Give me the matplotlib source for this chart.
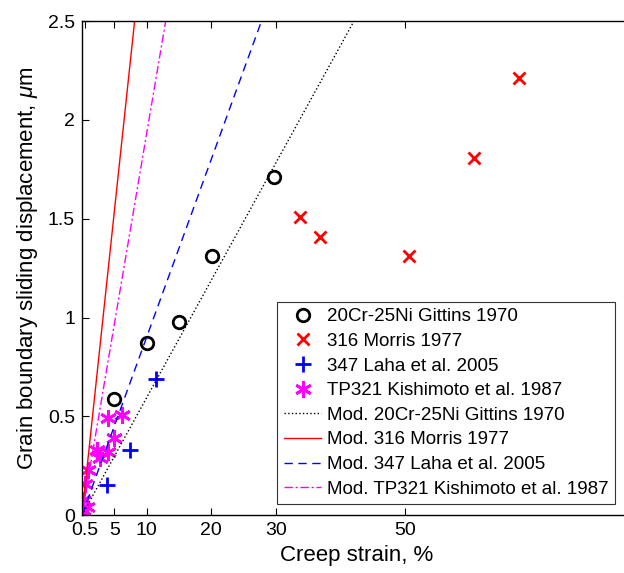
import matplotlib
matplotlib.use('Agg')
import matplotlib.pyplot as plt
import numpy as np

plt.rcParams['font.family'] = ['Liberation Sans', 'DejaVu Sans']
plt.rcParams['mathtext.fontset'] = 'custom'
plt.rcParams['mathtext.it'] = 'Liberation Sans:italic'

# measured data
gittins_x = [4.9, 10.0, 15.0, 20.2, 29.7]
gittins_y = [0.59, 0.87, 0.98, 1.31, 1.71]

morris_x = [33.7, 36.8, 50.6, 60.7, 67.7]
morris_y = [1.51, 1.41, 1.31, 1.81, 2.21]

laha_x = [3.8, 7.5, 11.5]
laha_y = [0.15, 0.33, 0.69]

kishi_x = [4.06, 6.12, 4.93, 2.25, 2.76, 4.06, 0.96, 0.44, 0.19, 0.19, 0.70]
kishi_y = [0.49, 0.505, 0.39, 0.33, 0.29, 0.32, 0.23, 0.16, 0.076, 0.025, 0.042]

# model slopes (displacement per % strain)
slope_gittins = 0.0594
slope_morris = 0.307
slope_laha = 0.090
slope_kishi = 0.193

xticks = [0.5, 5, 10, 20, 30, 50]
xticklabels = ['0.5', '5', '10', '20', '30', '50']
yticks = [0, 0.5, 1, 1.5, 2, 2.5]
yticklabels = ['0', '0.5', '1', '1.5', '2', '2.5']

fig = plt.figure(figsize=(6.24, 5.73), dpi=100)
ax = fig.add_axes([0.1314, 0.101, 0.88, 0.862])

asterisk = (6, 2, 0)
ax.plot(gittins_x, gittins_y, 'o', ms=9, mfc='none', mec='black', mew=2,
        ls='none', label='20Cr-25Ni Gittins 1970')
ax.plot(morris_x, morris_y, 'x', ms=9, mec='red', mew=2,
        ls='none', label='316 Morris 1977')
ax.plot(laha_x, laha_y, '+', ms=12, mec='blue', mew=2,
        ls='none', label='347 Laha et al. 2005')
ax.plot(kishi_x, kishi_y, marker=asterisk, ms=12, mec='magenta', mfc='magenta',
        mew=2, ls='none', label='TP321 Kishimoto et al. 1987')

xm = np.array([0, 85])
ax.plot(xm, slope_gittins * xm, ls=':', color='black', lw=1,
        label='Mod. 20Cr-25Ni Gittins 1970')
ax.plot(xm, slope_morris * xm, ls='-', color='red', lw=1,
        label='Mod. 316 Morris 1977')
ax.plot(xm, slope_laha * xm, ls=(0, (6, 4)), color='blue', lw=1,
        label='Mod. 347 Laha et al. 2005')
ax.plot(xm, slope_kishi * xm, ls=(0, (6, 2, 1.5, 2)), color='magenta', lw=1,
        label='Mod. TP321 Kishimoto et al. 1987')

ax.set_xlim(0, 85)
ax.set_ylim(0, 2.5)
ax.set_xticks(xticks)
ax.set_xticklabels(xticklabels)
ax.set_yticks(yticks)
ax.set_yticklabels(yticklabels)
ax.tick_params(direction='in', top=True, right=True, labelsize=14, length=5,
               width=0.8, pad=5)
for s in ax.spines.values():
    s.set_linewidth(1.0)

ax.set_xlabel('Creep strain, %', fontsize=16, labelpad=4)
ax.set_ylabel(r'Grain boundary sliding displacement, $\mu$m', fontsize=16,
              labelpad=6)

leg = ax.legend(loc='lower right', bbox_to_anchor=(0.971, 0.022), fontsize=13.5,
                frameon=True, fancybox=False, edgecolor='black',
                handlelength=2.0, handletextpad=0.3, borderpad=0.35,
                labelspacing=0.4, borderaxespad=0)
leg.get_frame().set_linewidth(0.8)

fig.savefig('out.png', dpi=100)
